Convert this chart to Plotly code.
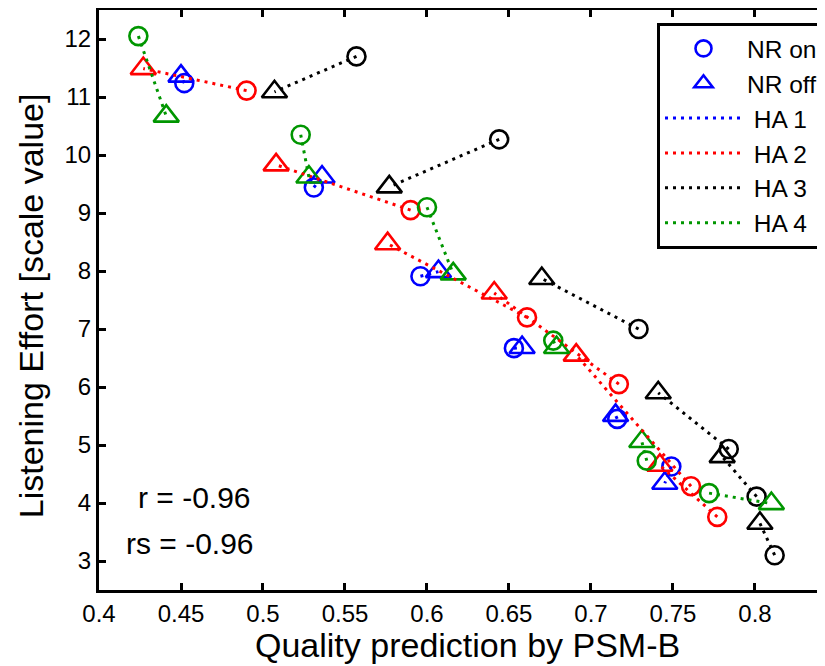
import plotly.graph_objects as go

# ---------------- data ----------------
ha_names = ["HA 1", "HA 2", "HA 3", "HA 4"]
ha_colors = ["rgb(0,0,255)", "rgb(255,0,0)", "rgb(0,0,0)", "rgb(0,150,0)"]

# NR on (circles)
ha1_on_x = [0.452, 0.531, 0.596, 0.653, 0.716, 0.749]
ha1_on_y = [11.24, 9.44, 7.91, 6.67, 5.45, 4.63]
ha2_on_x = [0.490, 0.590, 0.661, 0.717, 0.761, 0.777]
ha2_on_y = [11.11, 9.05, 7.20, 6.05, 4.29, 3.76]
ha3_on_x = [0.557, 0.644, 0.729, 0.784, 0.801, 0.812]
ha3_on_y = [11.70, 10.27, 7.00, 4.93, 4.11, 3.10]
ha4_on_x = [0.424, 0.523, 0.600, 0.677, 0.734, 0.772]
ha4_on_y = [12.05, 10.35, 9.10, 6.80, 4.73, 4.17]

# NR off (triangles)
ha1_off_x = [0.450, 0.536, 0.607, 0.658, 0.715, 0.745]
ha1_off_y = [11.36, 9.62, 7.99, 6.68, 5.51, 4.34]
ha2_off_x = [0.427, 0.508, 0.576, 0.641, 0.691, 0.742]
ha2_off_y = [11.49, 9.83, 8.47, 7.62, 6.55, 4.65]
ha3_off_x = [0.507, 0.577, 0.670, 0.741, 0.780, 0.803]
ha3_off_y = [11.09, 9.45, 7.87, 5.90, 4.80, 3.65]
ha4_off_x = [0.441, 0.528, 0.616, 0.679, 0.731, 0.810]
ha4_off_y = [10.67, 9.62, 7.95, 6.68, 5.06, 3.99]

x_ticks = [0.4, 0.45, 0.5, 0.55, 0.6, 0.65, 0.7, 0.75, 0.8]
x_ticktext = ["0.4", "0.45", "0.5", "0.55", "0.6", "0.65", "0.7", "0.75", "0.8"]
y_ticks = [3, 4, 5, 6, 7, 8, 9, 10, 11, 12]

r_text = "r = -0.96"
rs_text = "rs = -0.96"
x_title = "Quality prediction by PSM-B"
y_title = "Listening Effort [scale value]"

on_x = [ha1_on_x, ha2_on_x, ha3_on_x, ha4_on_x]
on_y = [ha1_on_y, ha2_on_y, ha3_on_y, ha4_on_y]
off_x = [ha1_off_x, ha2_off_x, ha3_off_x, ha4_off_x]
off_y = [ha1_off_y, ha2_off_y, ha3_off_y, ha4_off_y]

FONT = "Liberation Sans, Arial, Helvetica, sans-serif"

fig = go.Figure()

# markers
for i in range(4):
    fig.add_trace(go.Scatter(
        x=on_x[i], y=on_y[i], mode="markers",
        name="NR on", showlegend=(i == 0), legendrank=1,
        marker=dict(symbol="circle-open", size=18, color=ha_colors[i],
                    line=dict(width=2.6, color=ha_colors[i])),
    ))
    fig.add_trace(go.Scatter(
        x=off_x[i], y=off_y[i], mode="markers",
        name="NR off", showlegend=(i == 0), legendrank=2,
        marker=dict(symbol="triangle-up-open", size=22, color=ha_colors[i],
                    line=dict(width=2.6, color=ha_colors[i])),
    ))

# dotted connecting lines (NR on <-> NR off pairs)
for i in range(4):
    lx, ly = [], []
    for a, b, c, d in zip(on_x[i], off_x[i], on_y[i], off_y[i]):
        lx += [a, b, None]
        ly += [c, d, None]
    fig.add_trace(go.Scatter(
        x=lx, y=ly, mode="lines", name="\u00a0" + ha_names[i], legendrank=3 + i,
        line=dict(color=ha_colors[i], width=3, dash="3px,5px"),
    ))

# the page body has an 8px margin, so the figure is sized/offset to compensate
fig.update_layout(
    width=817, height=658,
    margin=dict(l=91, r=0, t=2, b=76),
    paper_bgcolor="white", plot_bgcolor="white",
    font=dict(family=FONT, color="black"),
    showlegend=True,
    legend=dict(
        x=0.7686, y=0.9776, xanchor="left", yanchor="top",
        bordercolor="black", borderwidth=3, bgcolor="white",
        font=dict(size=24.5, family=FONT), itemwidth=77,
        entrywidth=200, entrywidthmode="pixels",
        traceorder="normal",
    ),
    xaxis=dict(
        range=[0.4, 0.8427], tickvals=x_ticks, ticktext=x_ticktext,
        ticks="inside", ticklen=7, tickwidth=3, tickcolor="black",
        showline=True, linewidth=3, linecolor="black", mirror="ticks",
        showgrid=False, zeroline=False,
        tickfont=dict(size=24, family=FONT),
    ),
    yaxis=dict(
        range=[2.5, 12.5], tickvals=y_ticks,
        ticks="inside", ticklen=7, tickwidth=3, tickcolor="black",
        showline=True, linewidth=3, linecolor="black", mirror=False,
        showgrid=False, zeroline=False,
        tickfont=dict(size=24, family=FONT),
    ),
    annotations=[
        dict(text=r_text, x=0.4585, y=4.09, xref="x", yref="y",
             showarrow=False, font=dict(size=30, family=FONT)),
        dict(text=rs_text, x=0.4555, y=3.31, xref="x", yref="y",
             showarrow=False, font=dict(size=30, family=FONT)),
        dict(text=x_title, x=0.625, y=-0.095, xref="x", yref="paper",
             showarrow=False, yanchor="middle", font=dict(size=34, family=FONT)),
        dict(text=y_title, x=-0.0937, y=0.491, xref="paper", yref="paper",
             showarrow=False, textangle=-90, xanchor="center", yanchor="middle",
             font=dict(size=34, family=FONT)),
    ],
)

fig.write_html("out.html")
